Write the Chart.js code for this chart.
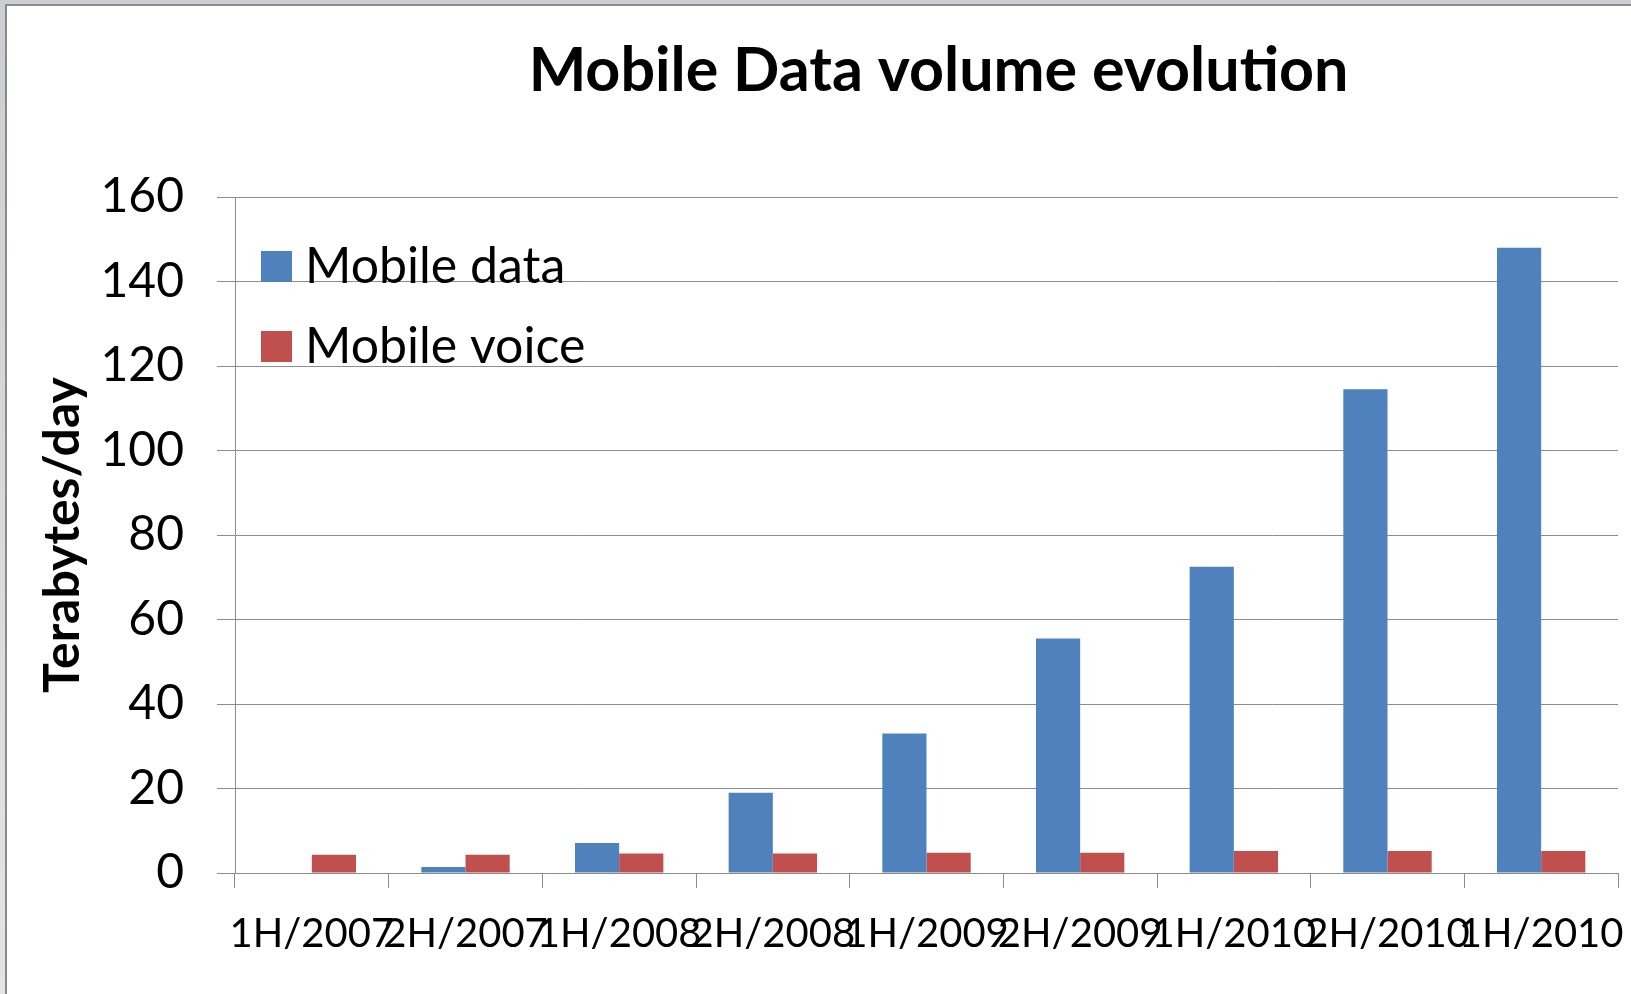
<!DOCTYPE html>
<html>
<head>
<meta charset="utf-8">
<title>Mobile Data volume evolution</title>
<script src="https://cdn.jsdelivr.net/npm/chart.js@4.4.1/dist/chart.umd.min.js"></script>
<style>
    html, body {
        margin: 0;
        padding: 0;
        width: 1631px;
        height: 994px;
        overflow: hidden;
        background: linear-gradient(#cdced3, #e4e4e6);
    }
    .sheet {
        position: absolute;
        left: 5px;
        top: 4px;
        width: 1650px;
        height: 1010px;
        background: #fff;
        border-left: 2px solid #8a8a8a;
        border-top: 2px solid #8a8a8a;
    }
    .chart-box {
        position: absolute;
        left: 0;
        top: 0;
        width: 1631px;
        height: 994px;
    }
</style>
</head>
<body>
<div class="sheet"></div>
<div class="chart-box"><canvas id="volumeChart"></canvas></div>
<script>
// Chart data
const chartTitle = 'Mobile Data volume evolution';
const axisTitle = 'Terabytes/day';
const periods = ['1H/2007', '2H/2007', '1H/2008', '2H/2008', '1H/2009', '2H/2009', '1H/2010', '2H/2010', '1H/2010'];
const mobileData = [null, 1.4, 7.1, 19, 33, 55.5, 72.5, 114.5, 148];
const mobileVoice = [4.3, 4.3, 4.6, 4.6, 4.8, 4.8, 5.2, 5.2, 5.2];
const yTicks = [0, 20, 40, 60, 80, 100, 120, 140, 160];

const gridGray = '#8c8c8c';

// Title and in-plot legend, drawn on top of the chart
const overlayText = {
    id: 'overlayText',
    afterDraw(chart) {
        const ctx = chart.ctx;
        const area = chart.chartArea;
        ctx.save();

        // title
        ctx.fillStyle = '#000';
        ctx.font = 'bold 61px Lato';
        ctx.textAlign = 'center';
        ctx.textBaseline = 'middle';
        ctx.fillText(chartTitle, (area.left + area.right) / 2 + 12, 71);

        // legend
        ctx.font = '50px Lato';
        ctx.textAlign = 'left';
        chart.data.datasets.forEach((ds, i) => {
            const top = area.top + 54 + i * 80;
            ctx.fillStyle = ds.backgroundColor;
            ctx.fillRect(area.left + 26, top, 31, 31);
            ctx.fillStyle = '#000';
            ctx.fillText(ds.label, area.left + 70, top + 16);
        });
        ctx.restore();
    }
};

new Chart(document.getElementById('volumeChart'), {
    type: 'bar',
    data: {
        labels: periods,
        datasets: [{
            label: 'Mobile data',
            data: mobileData,
            backgroundColor: '#4F81BD',
            borderWidth: 0,
            categoryPercentage: 0.575,
            barPercentage: 1.0
        }, {
            label: 'Mobile voice',
            data: mobileVoice,
            backgroundColor: '#C0504D',
            borderWidth: 0,
            categoryPercentage: 0.575,
            barPercentage: 1.0
        }]
    },
    options: {
        responsive: true,
        maintainAspectRatio: false,
        animation: false,
        layout: {
            padding: { top: 197, right: 13, bottom: 0, left: 0 }
        },
        plugins: {
            legend: { display: false },
            title: { display: false },
            tooltip: { enabled: false }
        },
        scales: {
            x: {
                grid: {
                    offset: true,
                    drawOnChartArea: false,
                    drawTicks: true,
                    tickLength: 15,
                    color: gridGray
                },
                border: { display: true, color: gridGray },
                ticks: {
                    color: '#000',
                    font: { family: 'Lato', size: 40 },
                    padding: 22,
                    autoSkip: false,
                    maxRotation: 0,
                    minRotation: 0
                },
                afterFit(scale) {
                    scale.height = 121;
                    scale.paddingLeft = 0;
                    scale.paddingRight = 0;
                }
            },
            y: {
                min: 0,
                max: 160,
                grid: {
                    color: gridGray,
                    tickLength: 18
                },
                border: { display: true, color: gridGray },
                ticks: {
                    color: '#000',
                    font: { family: 'Lato', size: 48 },
                    padding: 33,
                    stepSize: 20,
                    callback: (value) => yTicks.includes(value) ? value : ''
                },
                title: {
                    display: true,
                    text: axisTitle,
                    color: '#000',
                    font: { family: 'Lato', size: 50, weight: 'bold' },
                    padding: { top: 33, bottom: 0 }
                },
                afterFit(scale) {
                    scale.width = 235;
                }
            }
        }
    },
    plugins: [overlayText]
});
</script>
</body>
</html>
